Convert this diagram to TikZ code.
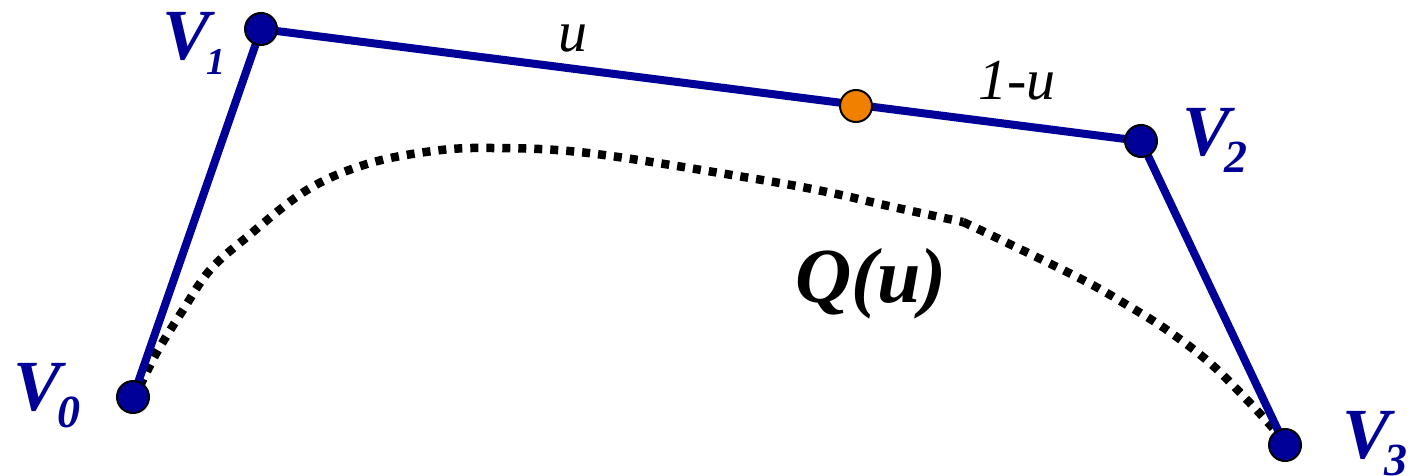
\documentclass[tikz,border=0pt]{standalone}
\usepackage{fontspec}
\setmainfont{Liberation Serif}
\definecolor{vblue}{RGB}{0,0,153}
\definecolor{vorange}{RGB}{242,128,0}
\begin{document}
\begin{tikzpicture}[x=1pt,y=-1pt,
  ball/.style={circle, draw=black, line width=2pt, fill=vblue, minimum size=32pt, inner sep=0pt},
  oball/.style={ball, fill=vorange},
  poly/.style={draw=vblue, line width=8pt, line join=round},
  curvestyle/.style={draw=black, line width=8.5pt, dash pattern=on 8pt off 8pt},
  vlab/.style={text=vblue, inner sep=0pt, anchor=base west, font=\fontsize{72}{72}\selectfont\bfseries\itshape},
  tlab/.style={text=black, inner sep=0pt, anchor=base west, font=\fontsize{58}{58}\selectfont\itshape}]
\useasboundingbox (0,0) rectangle (1412,476);
% curve Q(u)
\draw[curvestyle] plot[smooth, tension=0.6] coordinates {(140,386) (157,352) (183,310) (210,270) (247,237) (307,190) (367,164) (433,151) (492,148) (588,153) (750,178) (827,192) (893,207) (963,222)};
\draw[curvestyle] plot[smooth, tension=0.6] coordinates {(963,222) (997,238) (1083,280) (1127,305) (1167,330) (1210,363) (1250,403) (1280,436)};
% control points
\coordinate (p0) at (133,397);
\coordinate (p1) at (261,29);
\coordinate (p2) at (1141,141);
\coordinate (p3) at (1285,445);
\draw[poly] (p0) -- (p1) -- (p2) -- (p3);
\node[ball] (v0) at (p0) {};
\node[ball] (v1) at (p1) {};
\node[ball] (v2) at (p2) {};
\node[ball] (v3) at (p3) {};
\node[oball] (q) at (856,106) {};
% labels
\node[vlab] (l0) at (13,410) {V\kern-4pt\raisebox{-17pt}{\fontsize{46}{46}\selectfont 0}};
\node[vlab] (l1) at (162,60) {V\kern-4pt\raisebox{-15pt}{\fontsize{38}{38}\selectfont 1}};
\node[vlab] (l2) at (1182,155) {V\kern-6pt\raisebox{-17pt}{\fontsize{46}{46}\selectfont 2}};
\node[vlab] (l3) at (1342,458) {V\kern-6pt\raisebox{-17pt}{\fontsize{46}{46}\selectfont 3}};
\node[tlab] (lu) at (558,52) {u};
\node[tlab] (l1u) at (978,100) {1-u};
\node[text=black, inner sep=0pt, anchor=base west, font=\fontsize{78}{78}\selectfont\bfseries\itshape] (lq) at (795,302) {Q(u)};
\end{tikzpicture}
\end{document}
